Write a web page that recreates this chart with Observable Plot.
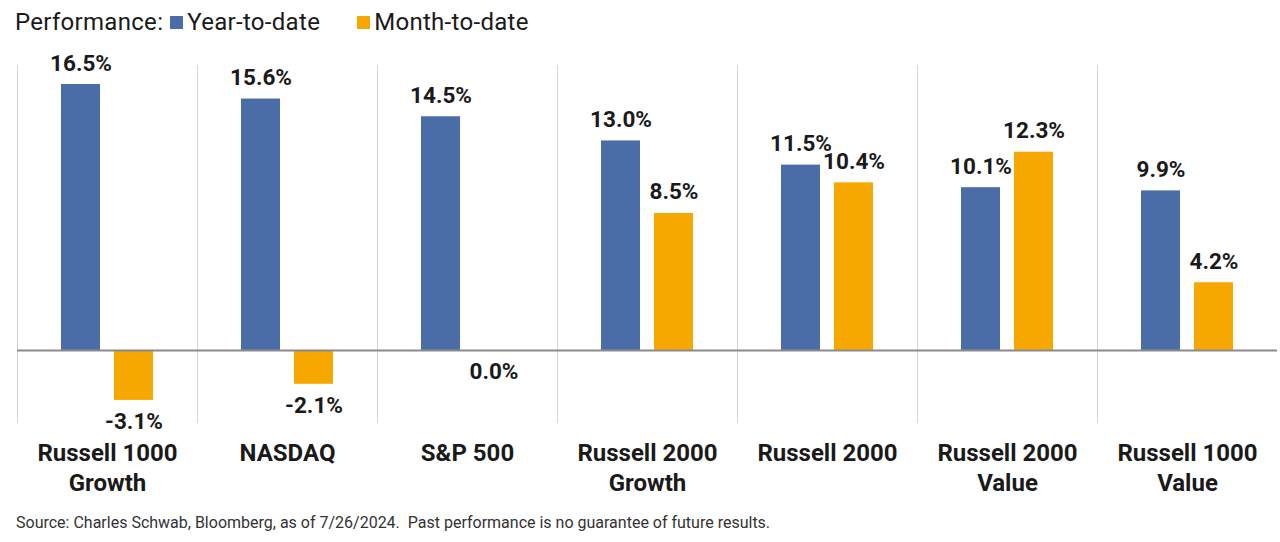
<!DOCTYPE html>
<html>
<head>
<meta charset="utf-8">
<script src="https://cdn.jsdelivr.net/npm/d3@7"></script>
<script src="https://cdn.jsdelivr.net/npm/@observablehq/plot@0.6"></script>
<style>
  body { margin: 0; background: #fff; font-family: Roboto, "Liberation Sans", sans-serif; color: #1a1a1a; }
  #legend { height: 40px; padding-left: 15px; font-size: 24px; line-height: 44px; white-space: nowrap; letter-spacing: 0.3px; }
  #legend .sw { display: inline-block; width: 13px; height: 13px; margin: 0 4px 0 7px; vertical-align: 1px; }
  #legend .item { margin-right: 30px; }
  #footer { padding-left: 16px; font-size: 16px; color: #333; margin-top: 8px; }
</style>
</head>
<body>
<div id="legend"></div>
<div id="chart"></div>
<div id="footer">Source: Charles Schwab, Bloomberg, as of 7/26/2024.&nbsp; Past performance is no guarantee of future results.</div>
<script>
const categories = ["Russell 1000 Growth", "NASDAQ", "S&P 500", "Russell 2000 Growth", "Russell 2000", "Russell 2000 Value", "Russell 1000 Value"];
const categoryLabels = ["Russell 1000\nGrowth", "NASDAQ", "S&P 500", "Russell 2000\nGrowth", "Russell 2000", "Russell 2000\nValue", "Russell 1000\nValue"];
const series = ["Year-to-date", "Month-to-date"];
const ytd = [16.5, 15.6, 14.5, 13.0, 11.5, 10.1, 9.9];
const mtd = [-3.1, -2.1, 0.0, 8.5, 10.4, 12.3, 4.2];
const colors = ["#4a6da7", "#f6a800"];

const data = [];
categories.forEach((c, i) => {
  data.push({cat: c, series: series[0], value: ytd[i]});
  data.push({cat: c, series: series[1], value: mtd[i]});
});
const labelRows = categories.map((c, i) => ({cat: c, label: categoryLabels[i]}));

// legend
const legend = document.getElementById("legend");
legend.innerHTML = `<span>Performance:</span>` + series.map((s, i) =>
  `<span class="item"><span class="sw" style="background:${colors[i]}"></span>${s}</span>`).join("");

const fmt = d => d.value.toFixed(1) + "%";

const chart = Plot.plot({
  width: 1280,
  height: 465,
  marginLeft: 14,
  marginRight: 0,
  marginTop: 25,
  marginBottom: 83,
  style: {fontFamily: "Roboto, 'Liberation Sans', sans-serif", background: "#fff"},
  fx: {domain: categories, padding: 0, axis: null},
  x: {domain: series, paddingInner: 0.259, paddingOuter: 0.815, axis: null},
  y: {domain: [-4.47, 17.68], axis: null},
  color: {domain: series, range: colors},
  marks: [
    Plot.frame({anchor: "left", stroke: "#d4d4d4", strokeWidth: 1}),
    Plot.barY(data, {fx: "cat", x: "series", y: "value", fill: "series"}),
    Plot.ruleY([0], {stroke: "#8a8a8a", strokeWidth: 2}),
    Plot.text(data.filter(d => d.value > 0), {fx: "cat", x: "series", y: "value", text: fmt,
      lineAnchor: "bottom", dy: -14, fontSize: 22.5, fontWeight: "bold", fill: "#1a1a1a"}),
    Plot.text(data.filter(d => d.value <= 0), {fx: "cat", x: "series", y: "value", text: fmt,
      lineAnchor: "top", dy: 13, fontSize: 22.5, fontWeight: "bold", fill: "#1a1a1a"}),
    Plot.text(labelRows, {fx: "cat", text: "label", frameAnchor: "bottom", lineAnchor: "top",
      dy: 17, fontSize: 24, fontWeight: "bold", lineHeight: 1.25, fill: "#1a1a1a"})
  ]
});
document.getElementById("chart").appendChild(chart);
</script>
</body>
</html>
